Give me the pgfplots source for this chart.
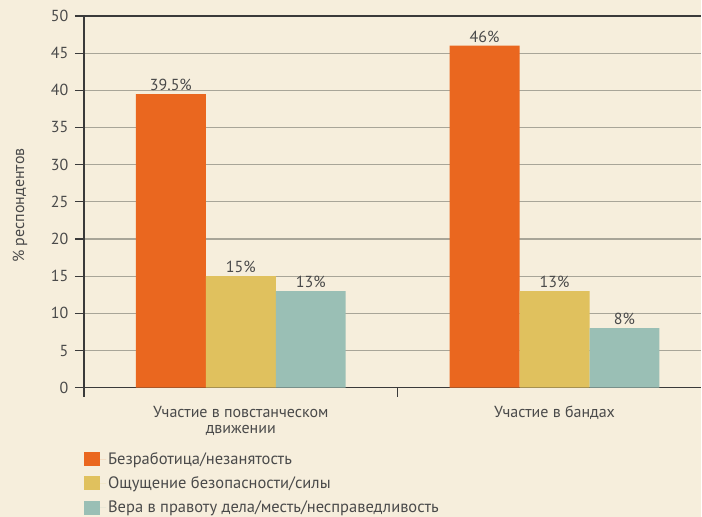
\documentclass[border=0pt]{standalone}
\usepackage{fontspec}
\setmainfont{PT Sans}
\usepackage{pgfplots}
\pgfplotsset{compat=1.18}
\definecolor{bg}{HTML}{F6EEDC}
\definecolor{c1}{HTML}{EA671F}
\definecolor{c2}{HTML}{E0C15E}
\definecolor{c3}{HTML}{9ABFB5}
\definecolor{grd}{HTML}{A8A598}
\definecolor{txt}{HTML}{4A4A4A}
\definecolor{axc}{HTML}{3A3A3A}
\begin{document}
\begin{tikzpicture}[x=1pt,y=1pt]
\fill[bg] (-84,-129) rectangle (618,388);
\begin{axis}[
  at={(0,0)}, anchor=south west,
  width=618pt, height=372pt, scale only axis,
  xmin=-0.5, xmax=1.468, ymin=0, ymax=50,
  axis x line*=bottom, axis y line*=left,
  axis line style={axc, line width=1.2pt},
  ybar=0pt, bar width=70pt,
  font=\fontsize{16}{16}\selectfont,
  /pgf/number format/assume math mode=true,
  ytick={0,5,...,45}, extra y ticks={50},
  ymajorgrids, grid style={grd, line width=1.2pt},
  extra y tick style={grid style={axc, line width=1.2pt}},
  tick align=outside,
  ytick style={axc, line width=1.2pt}, 
  y tick label style={txt, xshift=-3pt},
  major tick length=9pt,
  xtick={-0.5,0.5}, xticklabels={},
  xtick style={axc, line width=1.2pt},
  extra x ticks={0,1},
  extra x tick labels={{Участие в повстанческом\\движении},{Участие в бандах}},
  extra x tick style={major tick length=0pt, xticklabel style={align=center, txt, yshift=-15pt}, xmajorgrids=false},
  ylabel={\% респондентов},
  ylabel style={at={(axis description cs:-0.1036,0.49)}, anchor=center, txt},
  nodes near coords={\pgfmathprintnumber{\pgfplotspointmeta}\%},
  every node near coord/.append style={txt, font=\fontsize{16}{16}\selectfont},
  legend style={at={(0,-0.168)}, anchor=north west, draw=none, fill=none,
    inner sep=0pt, row sep=7pt, cells={anchor=west, txt}, font=\fontsize{16.5}{16.5}\selectfont},
  legend cell align=left,
]
\addplot[fill=c1, draw=none, legend image code/.code={\fill[c1] (0pt,-7pt) rectangle (16pt,7pt); \path (0pt,0pt) -- (22pt,0pt);}] coordinates {(0,39.5) (1,46)};
\addplot[fill=c2, draw=none, legend image code/.code={\fill[c2] (0pt,-7pt) rectangle (16pt,7pt); \path (0pt,0pt) -- (22pt,0pt);}] coordinates {(0,15) (1,13)};
\addplot[fill=c3, draw=none, legend image code/.code={\fill[c3] (0pt,-7pt) rectangle (16pt,7pt); \path (0pt,0pt) -- (22pt,0pt);}] coordinates {(0,13) (1,8)};
\legend{Безработица/незанятость, Ощущение безопасности/силы, Вера в правоту дела/месть/несправедливость}
\end{axis}
\end{tikzpicture}
\end{document}
